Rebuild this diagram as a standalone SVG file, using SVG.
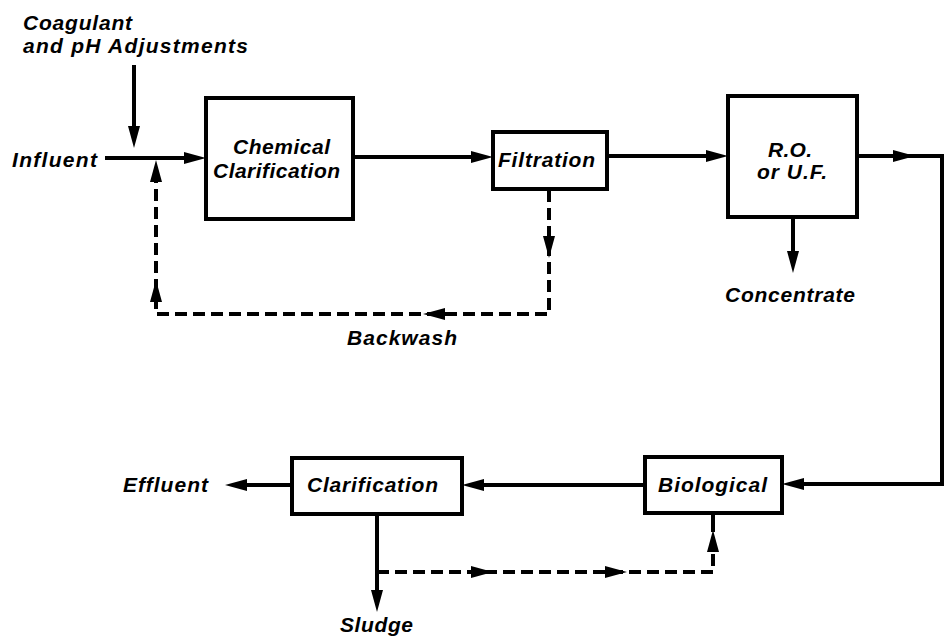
<svg xmlns="http://www.w3.org/2000/svg" xmlns:xlink="http://www.w3.org/1999/xlink" width="951" height="640" viewBox="0 0 951 640">
<style>
text{font-family:"Liberation Sans",Arial,sans-serif;font-size:21px;font-style:italic;font-weight:bold;fill:#000}
.box{fill:#fff;stroke:#000;stroke-width:4}
.ln{fill:none;stroke:#000;stroke-width:4}
.dash{fill:none;stroke:#000;stroke-width:4;stroke-dasharray:12 6}
</style>
<defs>
<path id="ah" d="M0,0 L-22,-6 L-22,6 Z" fill="#000"/>
</defs>
<rect width="951" height="640" fill="#fff"/>
<g id="connectors">
<line class="ln" x1="134" y1="65" x2="134" y2="130"/>
<use xlink:href="#ah" transform="translate(134,148) rotate(90)"/>
<line class="ln" x1="105" y1="158" x2="186" y2="158"/>
<use xlink:href="#ah" transform="translate(206,158)"/>
<line class="ln" x1="353" y1="157" x2="473" y2="157"/>
<use xlink:href="#ah" transform="translate(493,157)"/>
<line class="ln" x1="607" y1="156" x2="710" y2="156"/>
<use xlink:href="#ah" transform="translate(728,156)"/>
<polyline class="ln" points="857,156 942,156 942,484 800,484"/>
<use xlink:href="#ah" transform="translate(915,156)"/>
<use xlink:href="#ah" transform="translate(782,484) rotate(180)"/>
<line class="ln" x1="793" y1="217" x2="793" y2="255"/>
<use xlink:href="#ah" transform="translate(793,273) rotate(90)"/>
<polyline class="dash" points="549,190 549,314 156,314 156,176"/>
<use xlink:href="#ah" transform="translate(549,258) rotate(90)"/>
<use xlink:href="#ah" transform="translate(423,314) rotate(180)"/>
<use xlink:href="#ah" transform="translate(156,280) rotate(-90)"/>
<use xlink:href="#ah" transform="translate(156,160) rotate(-90)"/>
<line class="ln" x1="645" y1="485" x2="480" y2="485"/>
<use xlink:href="#ah" transform="translate(462,485) rotate(180)"/>
<line class="ln" x1="292" y1="485" x2="243" y2="485"/>
<use xlink:href="#ah" transform="translate(225,485) rotate(180)"/>
<line class="ln" x1="377" y1="514" x2="377" y2="594"/>
<use xlink:href="#ah" transform="translate(377,612) rotate(90)"/>
<polyline class="dash" points="377,572 713,572 713,548"/>
<line class="ln" x1="713" y1="514" x2="713" y2="532"/>
<use xlink:href="#ah" transform="translate(493,572)"/>
<use xlink:href="#ah" transform="translate(627,572)"/>
<use xlink:href="#ah" transform="translate(713,530) rotate(-90)"/>
</g>
<g id="labels">
<text x="23" y="30" textLength="109" lengthAdjust="spacing">Coagulant</text>
<text x="23" y="53" textLength="225" lengthAdjust="spacing">and pH Adjustments</text>
<text x="12" y="167" textLength="85" lengthAdjust="spacing">Influent</text>
<text x="725" y="302" textLength="130" lengthAdjust="spacing">Concentrate</text>
<text x="347" y="345" textLength="110" lengthAdjust="spacing">Backwash</text>
<text x="123" y="492" textLength="85" lengthAdjust="spacing">Effluent</text>
<text x="340" y="632" textLength="73" lengthAdjust="spacing">Sludge</text>
</g>
<g id="chemical-clarification">
<rect class="box" x="206" y="98" width="147" height="121"/>
<text x="233" y="154" textLength="97" lengthAdjust="spacing">Chemical</text>
<text x="213" y="178" textLength="127" lengthAdjust="spacing">Clarification</text>
</g>
<g id="filtration">
<rect class="box" x="493" y="132" width="114" height="57"/>
<text x="498" y="167" textLength="97" lengthAdjust="spacing">Filtration</text>
</g>
<g id="ro-uf">
<rect class="box" x="728" y="96" width="129" height="121"/>
<text x="768" y="157" textLength="44" lengthAdjust="spacing">R.O.</text>
<text x="757" y="179" textLength="70" lengthAdjust="spacing">or U.F.</text>
</g>
<g id="biological">
<rect class="box" x="645" y="457" width="137" height="56"/>
<text x="658" y="492" textLength="109" lengthAdjust="spacing">Biological</text>
</g>
<g id="clarification">
<rect class="box" x="292" y="458" width="170" height="56"/>
<text x="307" y="492" textLength="131" lengthAdjust="spacing">Clarification</text>
</g>
</svg>
